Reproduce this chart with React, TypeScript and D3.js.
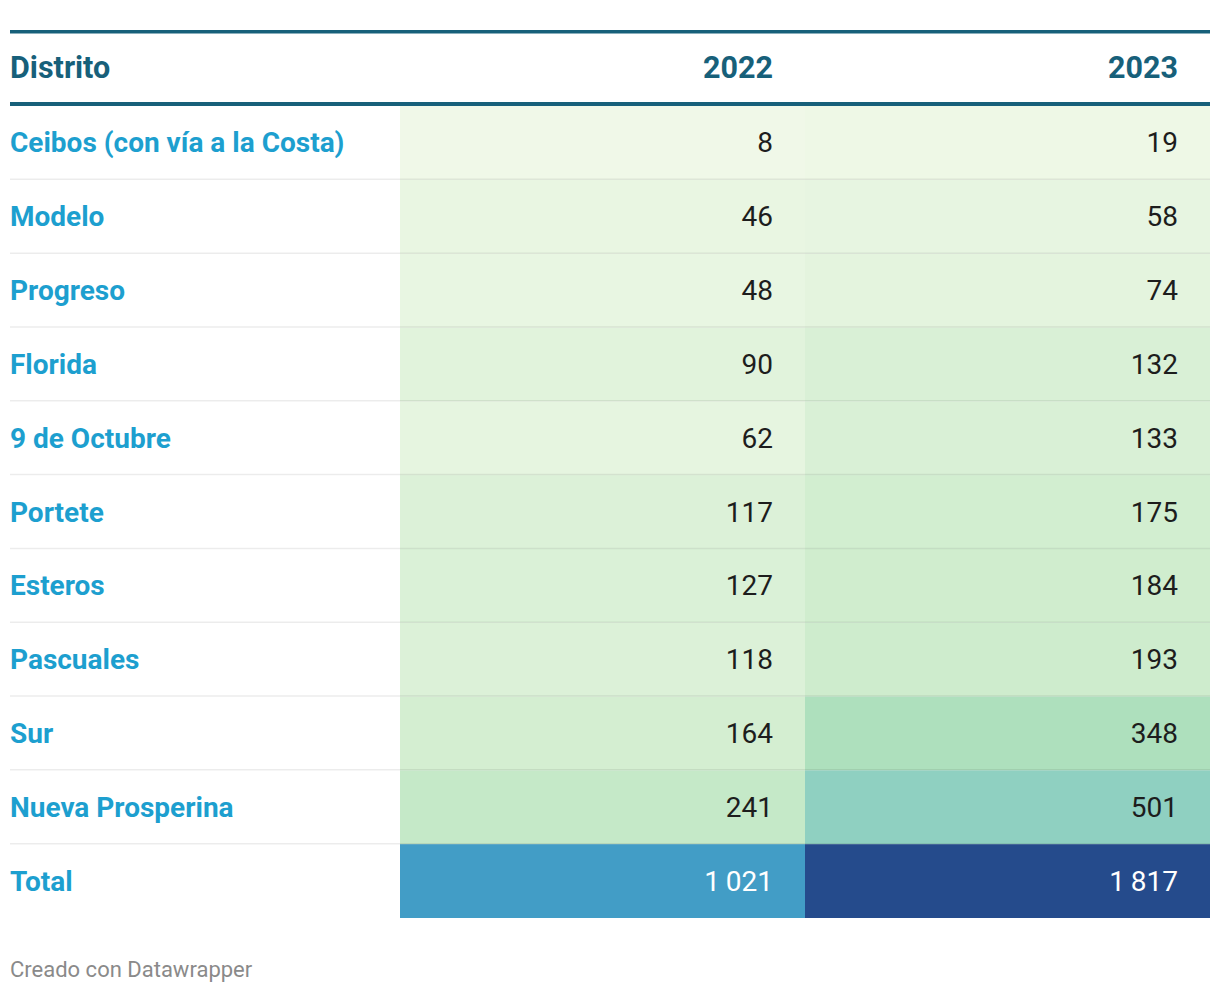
import React from "react";
import * as d3 from "d3";

const districts = [
  "Ceibos (con vía a la Costa)",
  "Modelo",
  "Progreso",
  "Florida",
  "9 de Octubre",
  "Portete",
  "Esteros",
  "Pascuales",
  "Sur",
  "Nueva Prosperina",
  "Total",
];
const years = ["2022", "2023"];
const values2022 = [8, 46, 48, 90, 62, 117, 127, 118, 164, 241, 1021];
const values2023 = [19, 58, 74, 132, 133, 175, 184, 193, 348, 501, 1817];
const colorStops = [0, 200, 350, 500, 1021, 1817];
const colorRange = ["#f1f9e9", "#cdeccc", "#aee0bd", "#8fd0c1", "#429dc6", "#254b8c"];

const W = 1220;
const H = 994;
const left = 10;
const right = 1210;
const headTop = 30;
const headBottom = 106;
const tableBottom = 918;
const colStart = 400;

const header = "#17607a";
const labelColor = "#1d9fcf";

export default function App() {
  const y = d3.scaleBand<string>().domain(districts).range([headBottom, tableBottom]).padding(0);
  const x = d3.scaleBand<string>().domain(years).range([colStart, right]).padding(0);
  const color = d3
    .scaleLinear<string>()
    .domain(colorStops)
    .range(colorRange)
    .interpolate(d3.interpolateLab);
  const locale = d3.formatLocale({ decimal: ",", thousands: "\u2009", grouping: [3], currency: ["", ""] });
  const fmt = locale.format(",d");
  const series = [values2022, values2023];
  const rh = y.bandwidth();
  const font = "Roboto, sans-serif";

  return (
    <svg width={W} height={H} style={{ position: "absolute", left: 0, top: 0, background: "#fff" }}>
      {districts.map((d, i) =>
        years.map((yr, j) => (
          <rect
            key={d + yr}
            x={x(yr)}
            y={y(d)}
            width={x.bandwidth()}
            height={rh}
            fill={color(series[j][i])}
          />
        ))
      )}
      {districts.slice(1).map((d) => (
        <line
          key={"sep" + d}
          x1={left}
          x2={right}
          y1={(y(d) as number) - 0.5}
          y2={(y(d) as number) - 0.5}
          stroke="rgba(0,0,0,0.075)"
          strokeWidth={1.5}
        />
      ))}
      <rect x={left} y={headTop} width={right - left} height={3.5} fill={header} />
      <rect x={left} y={headBottom - 4} width={right - left} height={4} fill={header} />
      <text x={left} y={78} fontFamily={font} fontWeight={700} fontSize={30.5} fill={header}>
        Distrito
      </text>
      {years.map((yr) => (
        <text
          key={"h" + yr}
          x={(x(yr) as number) + x.bandwidth() - 32}
          y={78}
          textAnchor="end"
          fontFamily={font}
          fontWeight={700}
          fontSize={30.5}
          fill={header}
        >
          {yr}
        </text>
      ))}
      {districts.map((d) => (
        <text
          key={"l" + d}
          x={left}
          y={(y(d) as number) + rh / 2 + 9.5}
          fontFamily={font}
          fontWeight={700}
          fontSize={28}
          fill={labelColor}
        >
          {d}
        </text>
      ))}
      {districts.map((d, i) =>
        years.map((yr, j) => {
          const v = series[j][i];
          const dark = v > 800;
          return (
            <text
              key={"v" + d + yr}
              x={(x(yr) as number) + x.bandwidth() - 32}
              y={(y(d) as number) + rh / 2 + 9.5}
              textAnchor="end"
              fontFamily={font}
              fontSize={28}
              fill={dark ? "#ffffff" : "#1d1d1d"}
            >
              {fmt(v)}
            </text>
          );
        })
      )}
      <text x={left} y={977} fontFamily={font} fontSize={22} fill="#8a8a8a">
        Creado con Datawrapper
      </text>
    </svg>
  );
}
